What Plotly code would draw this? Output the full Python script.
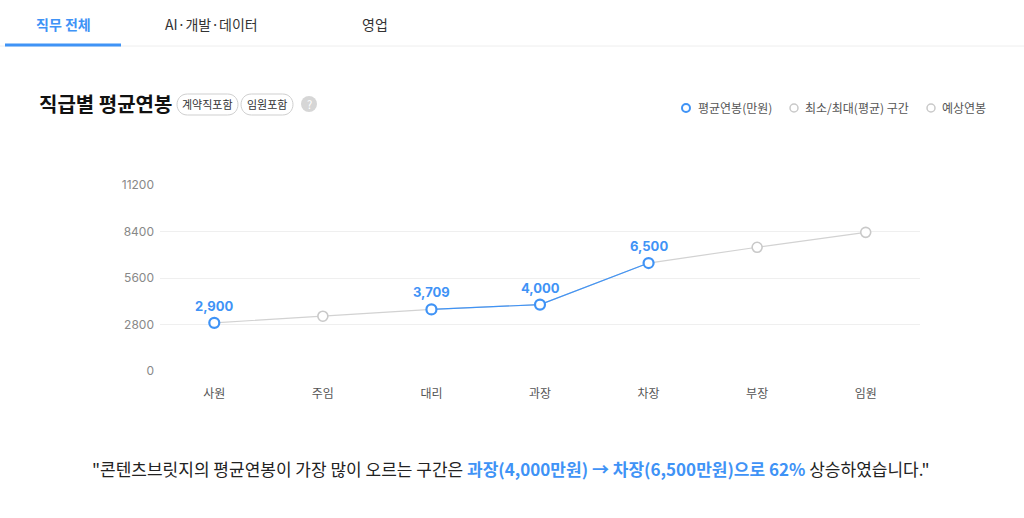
import plotly.graph_objects as go

# ---------------- data ----------------
categories = ["사원", "주임", "대리", "과장", "차장", "부장", "임원"]
avg_salary = [2900, None, 3709, 4000, 6500, None, None]        # 평균연봉(만원)
expected_salary = [None, 3300, None, None, None, 7450, 8350]  # 예상연봉
blue_segment = ["대리", "과장", "차장"]
y_ticks = [0, 2800, 5600, 8400, 11200]
tabs = ["직무 전체", "AI·개발·데이터", "영업"]
badges = ["계약직포함", "임원포함"]
legend_items = ["평균연봉(만원)", "최소/최대(평균) 구간", "예상연봉"]

# ---------------- styles ----------------
W, H = 1024, 518
L, R, T, B = 160, 104, 185, 147
PW, PH = W - L - R, H - T - B
BLUE = "#3f93f6"
GRAY_M = "#c9c9c9"
FONT = "Noto Sans CJK KR"
NUMFONT = "Inter, Noto Sans CJK KR"


def px(x):
    return (x - L) / PW


def py(y):
    return (H - B - y) / PH


def text_at(x, y, text, size, color, xanchor="center", family=FONT):
    return dict(x=px(x), y=py(y), xref="paper", yref="paper", text=text, showarrow=False,
                xanchor=xanchor, yanchor="middle",
                font=dict(family=family, size=size, color=color))


combined = [a if a is not None else e for a, e in zip(avg_salary, expected_salary)]
blue_vals = [combined[categories.index(c)] for c in blue_segment]

fig = go.Figure()
# gray connecting line through all grades
fig.add_trace(go.Scatter(x=categories, y=combined, mode="lines",
                         line=dict(color="#d2d2d2", width=1.2), hoverinfo="skip"))
# blue segment
fig.add_trace(go.Scatter(x=blue_segment, y=blue_vals, mode="lines",
                         line=dict(color=BLUE, width=1.2), hoverinfo="skip"))
# expected markers
fig.add_trace(go.Scatter(x=categories, y=expected_salary, mode="markers",
                         marker=dict(size=10, color="white", line=dict(color=GRAY_M, width=1.6)),
                         cliponaxis=False))
# average markers
fig.add_trace(go.Scatter(x=categories, y=avg_salary, mode="markers",
                         marker=dict(size=10, color="white", line=dict(color=BLUE, width=2.2)),
                         cliponaxis=False))

annotations = []
shapes = []

# data labels
for c, v in zip(categories, avg_salary):
    if v is not None:
        annotations.append(dict(x=c, y=v, xref="x", yref="y", text=f"<b>{v:,}</b>",
                                showarrow=False, yshift=17, yanchor="middle",
                                font=dict(family=NUMFONT, size=13, color=BLUE)))

# tabs
tab_x = [63, 211, 375]
for i, (t, x) in enumerate(zip(tabs, tab_x)):
    annotations.append(text_at(x, 24, f"<b>{t}</b>" if i == 0 else t, 14,
                               BLUE if i == 0 else "#333"))
shapes.append(dict(type="line", xref="paper", yref="paper", x0=px(0), x1=px(1024),
                   y0=py(46), y1=py(46), line=dict(color="#eeeeee", width=1)))
shapes.append(dict(type="line", xref="paper", yref="paper", x0=px(5), x1=px(121),
                   y0=py(45), y1=py(45), line=dict(color=BLUE, width=3)))

# title
annotations.append(text_at(37, 104, "<b>직급별 평균연봉</b>", 20, "#111", xanchor="left"))

# badges
badge_x = [(177, 238), (241, 293)]
for b, (x0, x1) in zip(badges, badge_x):
    r = 10.5
    y0, y1 = 94, 115
    shapes.append(dict(type="path", xref="paper", yref="paper",
                       xsizemode="pixel", ysizemode="pixel", xanchor=px(0), yanchor=py(0),
                       path=(f"M {x0 + r},{-y0} L {x1 - r},{-y0} "
                             f"C {x1 + 0.33*r},{-y0} {x1 + 0.33*r},{-y1} {x1 - r},{-y1} "
                             f"L {x0 + r},{-y1} "
                             f"C {x0 - 0.33*r},{-y1} {x0 - 0.33*r},{-y0} {x0 + r},{-y0} Z"),
                       line=dict(color="#cfcfcf", width=1), fillcolor="white", layer="below"))
    annotations.append(text_at((x0 + x1) / 2, 104.5, b, 11, "#333"))

# question mark
shapes.append(dict(type="circle", xref="paper", yref="paper", xsizemode="pixel", ysizemode="pixel",
                   xanchor=px(309), yanchor=py(104), x0=-8, x1=8, y0=-8, y1=8,
                   fillcolor="#d6d6d6", line=dict(width=0)))
annotations.append(text_at(309, 104, "?", 11, "white"))

# legend
leg_dot_x = [686, 794, 931]
leg_text_x = [696, 803, 940]
leg_colors = [BLUE, GRAY_M, GRAY_M]
for t, dx, tx, col in zip(legend_items, leg_dot_x, leg_text_x, leg_colors):
    shapes.append(dict(type="circle", xref="paper", yref="paper", xsizemode="pixel", ysizemode="pixel",
                       xanchor=px(dx), yanchor=py(108), x0=-4, x1=4, y0=-4, y1=4,
                       fillcolor="white", line=dict(color=col, width=2 if col == BLUE else 1.5)))
    annotations.append(text_at(tx, 108, t, 12, "#555", xanchor="left"))

# bottom sentence
sentence = ('"콘텐츠브릿지의 평균연봉이 가장 많이 오르는 구간은 '
            f'<span style="color:{BLUE}"><b>과장(4,000만원) → 차장(6,500만원)으로 62%</b></span>'
            ' 상승하였습니다."')
annotations.append(text_at(511, 468, sentence, 17, "#222"))

fig.update_layout(
    width=W, height=H, margin=dict(l=L, r=R, t=T, b=B),
    paper_bgcolor="white", plot_bgcolor="white", showlegend=False,
    annotations=annotations, shapes=shapes,
    font=dict(family=FONT),
    xaxis=dict(type="category", categoryorder="array", categoryarray=categories,
               range=[-0.5, 6.5], showgrid=False, zeroline=False, showline=False,
               ticks="", tickfont=dict(family=FONT, size=12, color="#555"), ticklabelstandoff=14),
    yaxis=dict(range=[0, 11200], tickvals=y_ticks, ticktext=[str(v) for v in y_ticks],
               showgrid=True, gridcolor="#efefef", gridwidth=1, zeroline=False,
               showline=False, ticks="", tickfont=dict(family=NUMFONT, size=12, color="#888"),
               ticklabelstandoff=5),
)

fig.write_html("out.html")
